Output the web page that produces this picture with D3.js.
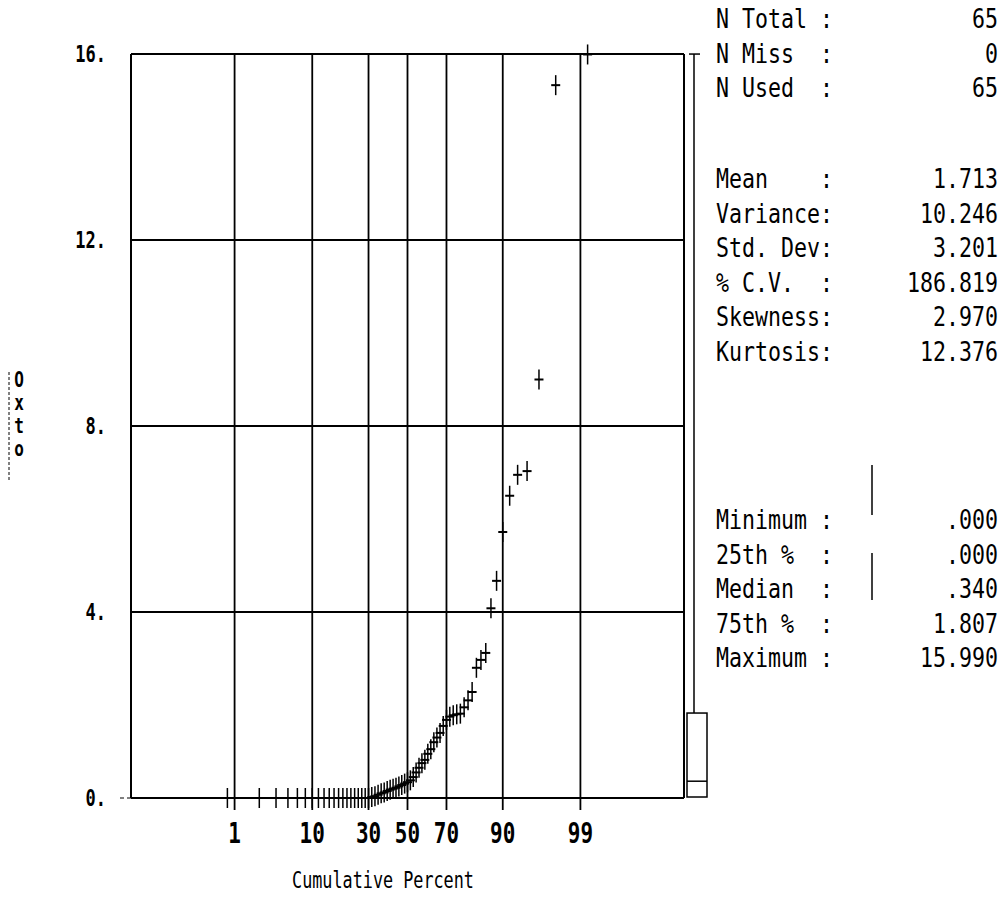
<!DOCTYPE html>
<html>
<head>
<meta charset="utf-8">
<script src="https://cdn.jsdelivr.net/npm/d3@7"></script>
<style>
  body { margin: 0; background: #fff; }
  text { font-family: 'DejaVu Sans Mono', monospace; fill: #000; white-space: pre; }
</style>
</head>
<body>
<div id="chart"></div>
<script>
const values = [
  0, 0, 0, 0, 0, 0, 0, 0, 0, 0,
  0, 0, 0, 0, 0, 0, 0, 0, 0, 0,
  0.02, 0.04, 0.07, 0.10, 0.12, 0.15, 0.18, 0.20, 0.22, 0.25,
  0.28, 0.31, 0.34, 0.38, 0.45, 0.55, 0.65, 0.75, 0.82, 0.95,
  1.05, 1.20, 1.30, 1.40, 1.55, 1.68, 1.75, 1.78, 1.80, 1.814,
  1.95, 2.10, 2.28, 2.80, 2.97, 3.12, 4.08, 4.67, 5.72, 6.50,
  6.95, 7.03, 9.00, 15.33, 15.99
]

const yTicks = [0, 4, 8, 12, 16]
const yTickLabels = ['0.', '4.', '8.', '12.', '16.']
const pctTicks = [1, 10, 30, 50, 70, 90, 99]
const pctTickLabels = ['1', '10', '30', '50', '70', '90', '99']
const yTitle = ['O', 'x', 't', 'o']

const statLabels1 = ['N Total :', 'N Miss  :', 'N Used  :']
const statValues1 = ['65', '0', '65']
const statLabels2 = ['Mean    :', 'Variance:', 'Std. Dev:', '% C.V.  :', 'Skewness:', 'Kurtosis:']
const statValues2 = ['1.713', '10.246', '3.201', '186.819', '2.970', '12.376']
const statLabels3 = ['Minimum :', '25th %  :', 'Median  :', '75th %  :', 'Maximum :']
const statValues3 = ['.000', '.000', '.340', '1.807', '15.990']

// box plot summary: min, q1, median, q3, max
const boxStats = [0, 0, 0.34, 1.807, 15.99]

;(function() {
const width = 1005,
      height = 919

const svg = d3.select('#chart')
  .append('svg')
  .attr('width', width)
  .attr('height', height)

// inverse normal cdf (Acklam) for the probability axis
function probit(p) {
  const a = [-39.69683028665376, 220.9460984245205, -275.9285104469687, 138.357751867269, -30.66479806614716, 2.506628277459239]
  const b = [-54.47609879822406, 161.5858368580409, -155.6989798598866, 66.80131188771972, -13.28068155288572]
  const c = [-0.007784894002430293, -0.3223964580411365, -2.400758277161838, -2.549732539343734, 4.374664141464968, 2.938163982698783]
  const d = [0.007784695709041462, 0.3224671290700398, 2.445134137142996, 3.754408661907416]
  const pl = 0.02425
  let q, r
  if (p < pl) {
    q = Math.sqrt(-2 * Math.log(p))
    return (((((c[0]*q+c[1])*q+c[2])*q+c[3])*q+c[4])*q+c[5]) / ((((d[0]*q+d[1])*q+d[2])*q+d[3])*q+1)
  }
  if (p > 1 - pl) {
    q = Math.sqrt(-2 * Math.log(1 - p))
    return -(((((c[0]*q+c[1])*q+c[2])*q+c[3])*q+c[4])*q+c[5]) / ((((d[0]*q+d[1])*q+d[2])*q+d[3])*q+1)
  }
  q = p - 0.5
  r = q * q
  return (((((a[0]*r+a[1])*r+a[2])*r+a[3])*r+a[4])*r+a[5])*q / (((((b[0]*r+b[1])*r+b[2])*r+b[3])*r+b[4])*r+1)
}

// text drawn taller than wide, like the old screen font
function place(tx, ty, sx, sy) {
  return 'translate(' + tx + ',' + ty + ') scale(' + sx + ',' + sy + ')'
}

const pLeft = 131, pRight = 684, pTop = 54, pBottom = 798

const zScale = d3.scaleLinear()
  .domain([-3.72, 3.72])
  .range([pLeft, pRight])
const x = function(pct) { return zScale(probit(pct / 100)) }

const y = d3.scaleLinear()
  .domain([0, 16])
  .range([pBottom, pTop])

const n = values.length
const points = values.map(function(v, i) {
  return { pct: (i + 0.5) / n * 100, value: v }
})

// horizontal grid + frame
svg.append('g')
  .selectAll('line')
  .data(yTicks)
  .enter().append('line')
  .attr('x1', pLeft).attr('x2', pRight)
  .attr('y1', function(d) { return y(d) })
  .attr('y2', function(d) { return y(d) })
  .attr('stroke', '#000')
  .attr('stroke-width', 2)

svg.append('line')
  .attr('x1', 120).attr('x2', pLeft)
  .attr('y1', pBottom).attr('y2', pBottom)
  .attr('stroke', '#000').attr('stroke-width', 1)
  .attr('stroke-dasharray', '4,3')

svg.append('g')
  .selectAll('line')
  .data([pLeft, pRight])
  .enter().append('line')
  .attr('x1', function(d) { return d }).attr('x2', function(d) { return d })
  .attr('y1', pTop).attr('y2', pBottom)
  .attr('stroke', '#000')
  .attr('stroke-width', 2)

// vertical percent grid
svg.append('g')
  .selectAll('line')
  .data(pctTicks)
  .enter().append('line')
  .attr('x1', function(d) { return x(d) })
  .attr('x2', function(d) { return x(d) })
  .attr('y1', pTop).attr('y2', pBottom + 12)
  .attr('stroke', '#000')
  .attr('stroke-width', 1.8)

// y tick labels
svg.append('g')
  .selectAll('text')
  .data(yTicks)
  .enter().append('text')
  .attr('transform', function(d) { return place(106, y(d) + 8, 1, 1.4) })
  .attr('text-anchor', 'end')
  .style('font-size', '17px')
  .style('font-weight', 'bold')
  .text(function(d, i) { return yTickLabels[i] })

// x tick labels
svg.append('g')
  .selectAll('text')
  .data(pctTicks)
  .enter().append('text')
  .attr('transform', function(d) { return place(x(d), 843, 1, 1.35) })
  .attr('text-anchor', 'middle')
  .style('font-size', '21px')
  .style('font-weight', 'bold')
  .text(function(d, i) { return pctTickLabels[i] })

svg.append('text')
  .attr('transform', place(383, 888, 1, 1.35))
  .attr('text-anchor', 'middle')
  .style('font-size', '16.8px')
  .text('Cumulative Percent')

// y axis title, letters stacked and underlined on the left
svg.append('g')
  .selectAll('text')
  .data(yTitle)
  .enter().append('text')
  .attr('transform', function(d, i) { return place(19, 387 + i * 23, 1, 1.3) })
  .attr('text-anchor', 'middle')
  .style('font-size', '16px')
  .style('font-weight', 'bold')
  .text(function(d) { return d })
svg.append('line')
  .attr('x1', 9).attr('x2', 9)
  .attr('y1', 372).attr('y2', 480)
  .attr('stroke', '#000').attr('stroke-width', 1)
  .attr('stroke-dasharray', '3,2')

// data markers
const marks = svg.append('g')
  .selectAll('g')
  .data(points)
  .enter().append('g')
  .attr('transform', function(d) {
    return 'translate(' + x(d.pct) + ',' + y(d.value) + ')'
  })
marks.append('line')
  .attr('x1', -4.5).attr('x2', 4.5)
  .attr('y1', 0).attr('y2', 0)
  .attr('stroke', '#000').attr('stroke-width', 2)
marks.append('line')
  .attr('x1', 0).attr('x2', 0)
  .attr('y1', -10).attr('y2', 10)
  .attr('stroke', '#000').attr('stroke-width', 1.5)

// box plot at right edge
const boxY = d3.scaleLinear()
  .domain([0, 16.4])
  .range([797, 35])
const bx = 697, bw = 20
svg.append('line')
  .attr('x1', 694).attr('x2', 694)
  .attr('y1', boxY(boxStats[4])).attr('y2', boxY(boxStats[3]))
  .attr('stroke', '#000').attr('stroke-width', 1.5)
svg.append('line')
  .attr('x1', 689).attr('x2', 700)
  .attr('y1', boxY(boxStats[4])).attr('y2', boxY(boxStats[4]))
  .attr('stroke', '#000').attr('stroke-width', 1.5)
svg.append('rect')
  .attr('x', bx - bw / 2).attr('y', boxY(boxStats[3]))
  .attr('width', bw).attr('height', boxY(boxStats[1]) - boxY(boxStats[3]))
  .attr('fill', 'none').attr('stroke', '#000').attr('stroke-width', 1.5)
svg.append('line')
  .attr('x1', bx - bw / 2).attr('x2', bx + bw / 2)
  .attr('y1', boxY(boxStats[2])).attr('y2', boxY(boxStats[2]))
  .attr('stroke', '#000').attr('stroke-width', 1.5)

// stats panel
function statBlock(labels, vals, y0) {
  const g = svg.append('g')
  g.selectAll('.lab')
    .data(labels)
    .enter().append('text')
    .attr('class', 'lab')
    .attr('transform', function(d, i) { return place(716, y0 + i * 34.5, 1, 1.2) })
    .style('font-size', '21.6px')
    .text(function(d) { return d })
  g.selectAll('.val')
    .data(vals)
    .enter().append('text')
    .attr('class', 'val')
    .attr('text-anchor', 'end')
    .attr('transform', function(d, i) { return place(998, y0 + i * 34.5, 1, 1.2) })
    .style('font-size', '21.6px')
    .text(function(d) { return d })
}
statBlock(statLabels1, statValues1, 28)
statBlock(statLabels2, statValues2, 188)
statBlock(statLabels3, statValues3, 529)

// stray vertical strokes in the panel
svg.append('g')
  .selectAll('line')
  .data([[465, 515], [553, 600]])
  .enter().append('line')
  .attr('x1', 872).attr('x2', 872)
  .attr('y1', function(d) { return d[0] })
  .attr('y2', function(d) { return d[1] })
  .attr('stroke', '#000').attr('stroke-width', 1.5)
})()
</script>
</body>
</html>
